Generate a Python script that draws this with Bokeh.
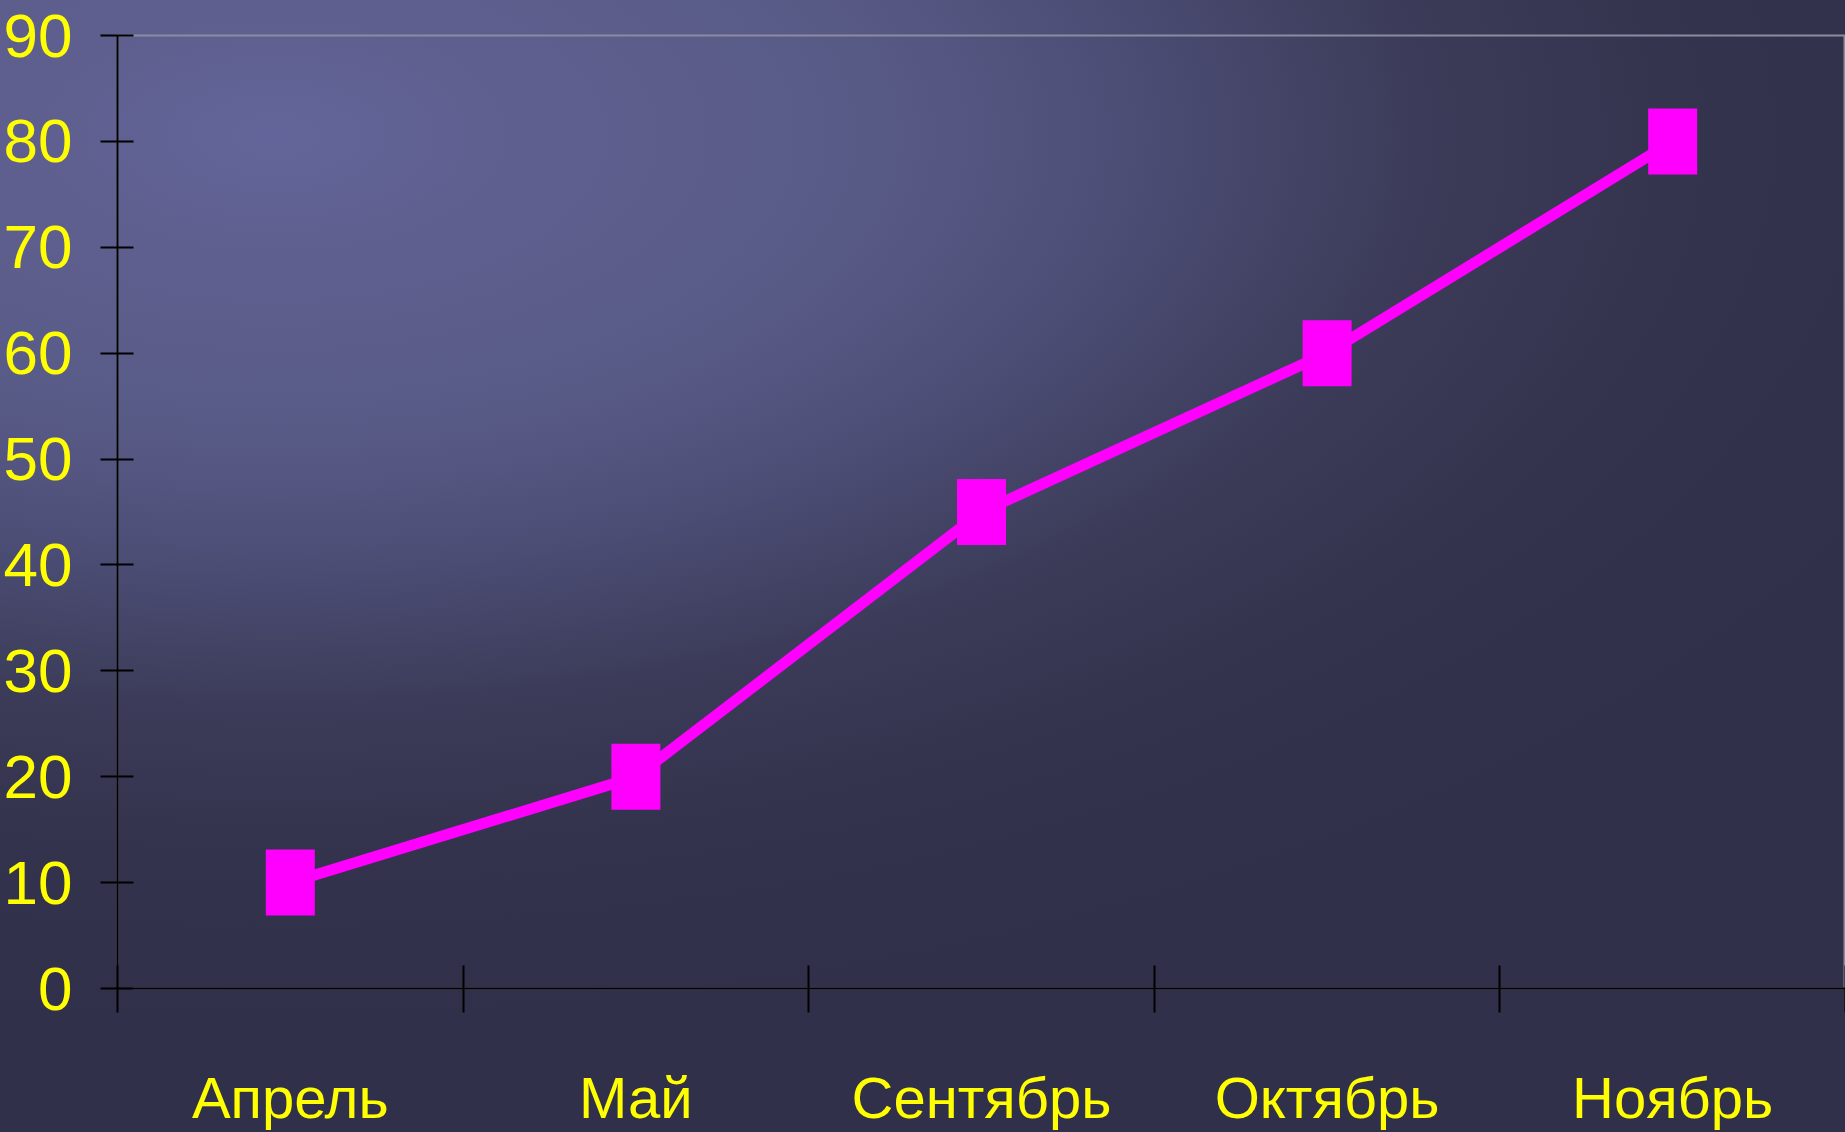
from bokeh.plotting import figure
from bokeh.models import Range1d, LinearAxis, FixedTicker, ColumnDataSource, CustomLabelingPolicy
from bokeh.embed import file_html
from bokeh.resources import INLINE

months = ["Апрель", "Май", "Сентябрь", "Октябрь", "Ноябрь"]
values = [10, 20, 45, 60, 80]
y_ticks = [0, 10, 20, 30, 40, 50, 60, 70, 80, 90]

FONT = "'Liberation Sans', Arial, sans-serif"
YELLOW = "#ffff00"

n = len(months)
centers = [i + 0.5 for i in range(n)]

BG = ("radial-gradient(ellipse 80% 65% at 15% 12%, #63659a 0%, #5f6090 14%, #585a86 41%, "
      "#4e4f78 56%, #3c3c5a 77%, #33334d 97%, #30304a 120%)")

p = figure(
    width=1845, height=1132,
    x_range=Range1d(0, n),
    y_range=Range1d(y_ticks[0], y_ticks[-1]),
    x_axis_location=None, y_axis_location="left",
    output_backend="svg", toolbar_location=None,
    min_border_left=117, min_border_right=0, min_border_top=35, min_border_bottom=144,
    styles={"background": BG},
)
p.background_fill_color = None
p.border_fill_color = None
p.outline_line_color = "#8c8ca0"
p.outline_line_width = 2
p.grid.visible = False

# y axis
ya = p.yaxis[0]
ya.ticker = FixedTicker(ticks=y_ticks)
ya.axis_line_color = "black"
ya.axis_line_width = 2
ya.major_tick_line_color = "black"
ya.major_tick_line_width = 2
ya.major_tick_in = 16
ya.major_tick_out = 17
ya.minor_tick_line_color = None
ya.major_label_text_color = YELLOW
ya.major_label_text_font = FONT
ya.major_label_text_font_size = "62px"
ya.major_label_standoff = 28

# boundary ticks axis (no labels)
ta = LinearAxis(ticker=FixedTicker(ticks=list(range(n + 1))),
                major_label_policy=CustomLabelingPolicy(code="return new Set()"))
ta.axis_line_color = "black"
ta.axis_line_width = 2
ta.major_tick_line_color = "black"
ta.major_tick_line_width = 2
ta.major_tick_in = 23
ta.major_tick_out = 24
ta.minor_tick_line_color = None
ta.major_label_standoff = 0
p.add_layout(ta, "below")

# category labels axis
ca = LinearAxis(ticker=FixedTicker(ticks=centers),
                major_label_overrides={c: m for c, m in zip(centers, months)})
ca.axis_line_color = None
ca.major_tick_line_color = None
ca.minor_tick_line_color = None
ca.major_label_text_color = YELLOW
ca.major_label_text_font = FONT
ca.major_label_text_font_size = "58px"
ca.major_label_standoff = 35
p.add_layout(ca, "below")

src = ColumnDataSource(data=dict(x=centers, y=values))
p.line("x", "y", source=src, line_color="#ff00ff", line_width=11)
p.rect("x", "y", source=src, width=49, height=66, width_units="screen", height_units="screen",
       fill_color="#ff00ff", line_color=None)

open("out.html", "w").write(file_html(p, INLINE))
